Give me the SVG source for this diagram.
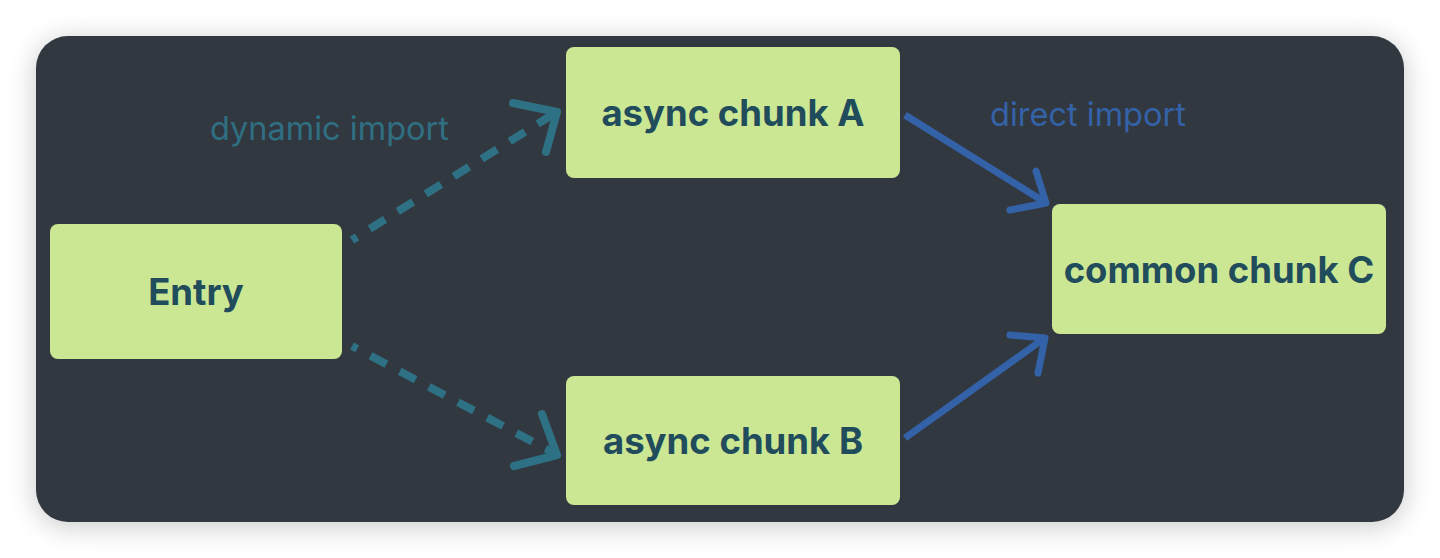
<svg xmlns="http://www.w3.org/2000/svg" width="1440" height="558" viewBox="0 0 1440 558">
<defs>
<filter id="sh" x="-10%" y="-20%" width="120%" height="140%">
<feGaussianBlur in="SourceAlpha" stdDeviation="14"/>
<feOffset dx="0" dy="4"/>
<feComponentTransfer><feFuncA type="linear" slope="0.22"/></feComponentTransfer>
<feMerge><feMergeNode/><feMergeNode in="SourceGraphic"/></feMerge>
</filter>
<style>
.node rect{fill:#cbe794;}
.node text{font-family:Inter,"Liberation Sans",sans-serif;font-weight:700;font-size:36.5px;fill:#214c5c;text-anchor:middle;dominant-baseline:central;}
.dyn{stroke:#2f7184;stroke-width:8;fill:none;stroke-linecap:butt;}
.dynhead{stroke:#2f7184;stroke-width:8;fill:none;stroke-linecap:round;stroke-linejoin:round;}
.dir{stroke:#3462a8;stroke-width:7;fill:none;stroke-linecap:butt;}
.dirhead{stroke:#3462a8;stroke-width:7;fill:none;stroke-linecap:round;stroke-linejoin:round;}
.lbl{font-family:Inter,"Liberation Sans",sans-serif;font-size:32.5px;}
</style>
</defs>
<rect x="0" y="0" width="1440" height="558" fill="#ffffff"/>
<rect x="36" y="36" width="1368" height="486" rx="32" fill="#333741" filter="url(#sh)"/>
<g id="connectors">
<path class="dyn" d="M352,240 L552,115" stroke-dasharray="18 15" stroke-dashoffset="12"/>
<path class="dynhead" d="M513,103 L557,112 L546,152"/>
<path class="dyn" d="M352,346 L552,452" stroke-dasharray="18 15" stroke-dashoffset="12"/>
<path class="dynhead" d="M542,414 L557,455 L514,466"/>
<path class="dir" d="M905,115 L1043,201"/>
<path class="dirhead" d="M1036,171 L1046,203 L1010,210"/>
<path class="dir" d="M905,438 L1042,340"/>
<path class="dirhead" d="M1010,335 L1045,338 L1038,373"/>
<text class="lbl" x="210" y="140" fill="#2f6f82">dynamic import</text>
<text class="lbl" x="990" y="126" fill="#3462a8">direct import</text>
</g>
<g id="entry" class="node"><rect x="50" y="224" width="292" height="135" rx="8"/><text x="196" y="292">Entry</text></g>
<g id="chunkA" class="node"><rect x="566" y="47" width="334" height="131" rx="8"/><text x="733" y="113">async chunk A</text></g>
<g id="chunkB" class="node"><rect x="566" y="376" width="334" height="129" rx="8"/><text x="733" y="441">async chunk B</text></g>
<g id="chunkC" class="node"><rect x="1052" y="204" width="334" height="130" rx="8"/><text x="1219" y="270">common chunk C</text></g>
</svg>
